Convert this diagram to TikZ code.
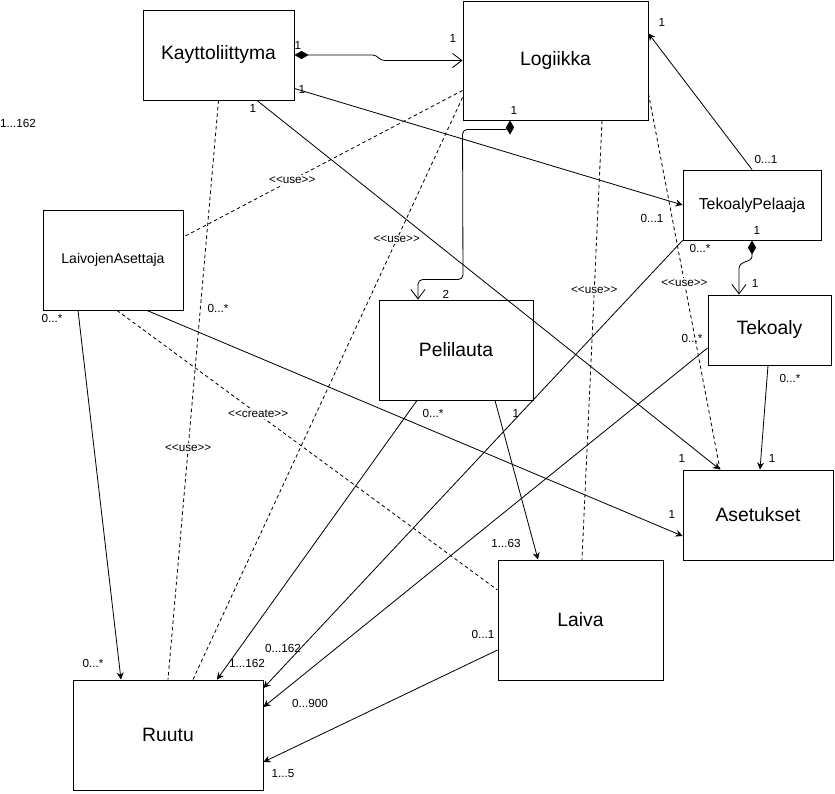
\documentclass[tikz,border=0pt]{standalone}
\usepackage{fontspec}
\setmainfont{Liberation Sans}[Ligatures=TeXOff]
\usepackage{tikz}
\usetikzlibrary{arrows.meta,calc,positioning}

\begin{document}
\begin{tikzpicture}[
    x=0.03cm, y=-0.03cm,
    line width=0.7pt,
    umlbox/.style={draw, rectangle, inner sep=0pt, line width=0.8pt, font=\fontsize{16.5}{18}\selectfont},
    mult/.style={inner sep=0pt, font=\fontsize{10}{11}\selectfont},
    stereo/.style={inner sep=1pt, fill=white, font=\fontsize{10}{11}\selectfont},
    assoc/.style={-{Stealth[length=6pt,width=6pt]}},
    dep/.style={dash pattern=on 3pt off 2.5pt},
    comp/.style={{Diamond[length=12pt,width=7pt]}-{Straight Barb[length=8pt,width=12pt]}}
]
    \useasboundingbox (0,0) rectangle (835,794);

    \node[umlbox, minimum width=4.53cm, minimum height=2.7cm] (kay) at (218.5,55) {Kayttoliittyma};
    \node[umlbox, minimum width=5.55cm, minimum height=3.57cm] (log) at (555.5,60.5) {Logiikka};
    \node[umlbox, minimum width=4.14cm, minimum height=2.1cm, font=\fontsize{13.5}{15}\selectfont] (tp) at (752,205) {TekoalyPelaaja};
    \node[umlbox, minimum width=4.2cm, minimum height=3cm, font=\fontsize{12}{14}\selectfont] (la) at (113,260) {LaivojenAsettaja};
    \node[umlbox, minimum width=4.62cm, minimum height=3cm] (pel) at (456,350) {Pelilauta};
    \node[umlbox, minimum width=3.69cm, minimum height=2.1cm] (tek) at (769.5,330) {Tekoaly};
    \node[umlbox, minimum width=4.5cm, minimum height=2.7cm] (ase) at (758,515) {Asetukset};
    \node[umlbox, minimum width=4.95cm, minimum height=3.6cm] (lai) at (580.5,620) {Laiva};
    \node[umlbox, minimum width=5.7cm, minimum height=3.3cm] (ruu) at (168,735) {Ruutu};

    \draw[comp] (kay.east) -- ++(78,0) to[out=0,in=180] ++(12,5.5) -- (log.west);
    \draw[assoc] ($(kay.south east)+(0,-12)$) -- (tp.west);
    \draw[assoc] ($(kay.south)+(38.5,0)$) -- ($(ase.north)+(-38,0)$);
    \draw[dep] (kay.south) -- (ruu.north) node[stereo, pos=0.6] {<<use>>};

    \draw[dep] ($(log.west)+(0,30)$) -- ($(la.east)+(0,-23)$) node[stereo, pos=0.61] {<<use>>};
    \draw[dep] ($(log.south west)+(0,-23)$) -- ($(ruu.north)+(25,0)$) node[stereo, pos=0.244] {<<use>>};
    \draw[comp, rounded corners=4pt] ($(log.south)+(-45.5,0)$) -- ++(0,9) -- ($(log.south west)+(0,9)$)
        -- ($(pel.north)+(7,-20)$) -- ($(pel.north)+(-38,-20)$) -- ($(pel.north)+(-38,0)$);
    \draw[dep] ($(log.south)+(46.5,0)$) -- ($(lai.north)+(1.5,0)$) node[stereo, pos=0.386] {<<use>>};
    \draw[dep] ($(log.east)+(0,33)$) -- ($(ase.north)+(-38,0)$) node[stereo, pos=0.503] {<<use>>};

    \draw[assoc] (tp.north) -- ($(log.east)+(0,-27)$);
    \draw[comp] (tp.south) -- ($(tp.south)+(0,16)$) .. controls ($(tp.south)+(0,22)$) and ($(tek.north)+(-30.5,-34)$) .. ($(tek.north)+(-30.5,-26)$) -- ($(tek.north)+(-30.5,0)$);
    \draw[assoc] (tp.south west) -- ($(ruu.east)+(0,-47)$);

    \draw[assoc] ($(tek.south)+(-1.5,0)$) -- ($(ase.north)+(2,0)$);
    \draw[assoc] ($(tek.west)+(0,18)$) -- ($(ruu.east)+(0,-28)$);

    \draw[assoc] ($(la.south)+(34,0)$) -- ($(ase.west)+(0,21)$);
    \draw[assoc] ($(la.south)+(-35,0)$) -- ($(ruu.north)+(-47,0)$);
    \draw[dep] ($(la.south)+(4,0)$) -- ($(lai.west)+(0,-30)$) node[stereo, pos=0.371] {<<create>>};

    \draw[assoc] ($(pel.south)+(39,0)$) -- ($(lai.north)+(-42.5,0)$);
    \draw[assoc] ($(pel.south)+(-39,0)$) -- ($(ruu.north)+(49,0)$);
    \draw[assoc] ($(lai.west)+(0,30)$) -- ($(ruu.east)+(0,27)$);

    \node[mult] (kay-log-a) at (298,45) {1};
    \node[mult] (kay-log-b) at (453,38) {1};
    \node[mult] (kay-tp-a) at (302,89) {1};
    \node[mult] (kay-tp-b) at (652,218) {0...1};
    \node[mult] (kay-ase-a) at (253,108) {1};
    \node[mult] (kay-ase-b) at (682,458) {1};
    \node[mult] (kay-ruu) at (218,308) {0...*};
    \node[mult] (tp-log-a) at (766,159) {0...1};
    \node[mult] (tp-log-b) at (662,22) {1};
    \node[mult] (log-pel-a) at (514,110) {1};
    \node[mult] (log-pel-b) at (446,294) {2};
    \node[mult] (tp-tek-a) at (757,230) {1};
    \node[mult] (tp-tek-b) at (755,283) {1};
    \node[mult] (tp-ruu-a) at (700,248) {0...*};
    \node[mult] (tp-ruu-b) at (283,648) {0...162};
    \node[mult] (log-ase) at (692,338) {0...*};
    \node[mult] (tek-ase-a) at (790,378) {0...*};
    \node[mult] (tek-ase-b) at (772,458) {1};
    \node[mult] (la-ase) at (672,514) {1};
    \node[mult] (la-ruu-a) at (52,318) {0...*};
    \node[mult] (la-ruu-b) at (93,663) {0...*};
    \node[mult] (pel-ruu-a) at (433,413) {0...*};
    \node[mult] (pel-ruu-b) at (247,663) {1...162};
    \node[mult] (pel-lai-a) at (516,413) {1};
    \node[mult] (pel-lai-b) at (506,543) {1...63};
    \node[mult] (lai-ruu-a) at (483,634) {0...1};
    \node[mult] (lai-ruu-b) at (283,774) {1...5};
    \node[mult] (tek-ruu) at (310,703) {0...900};
    \node[mult] (loose) at (18,123) {1...162};
\end{tikzpicture}
\end{document}
